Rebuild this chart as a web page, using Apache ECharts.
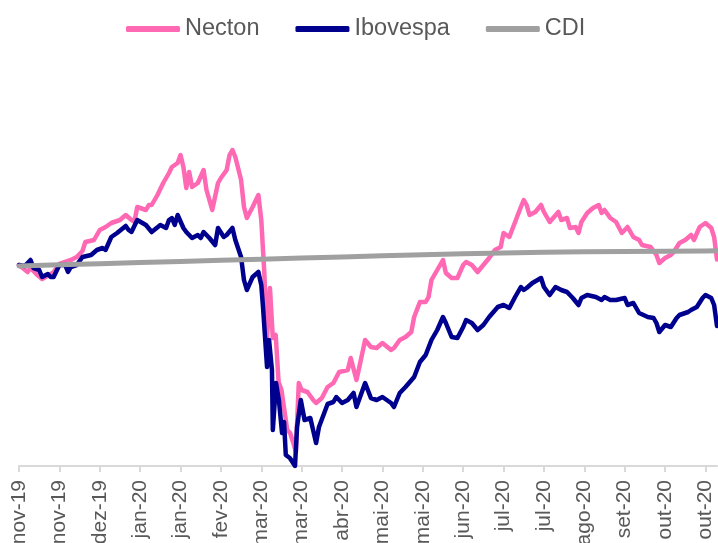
<!DOCTYPE html>
<html>
<head>
<meta charset="utf-8">
<script src="https://cdn.jsdelivr.net/npm/echarts@6/dist/echarts.min.js"></script>
<style>
  html, body { margin: 0; padding: 0; background: #ffffff; }
  #chart { width: 718px; height: 543px; }
</style>
</head>
<body>
<div id="chart"></div>
<script>
// Tick labels (one every 14 trading days)
const tickLabels = ['nov-19','nov-19','dez-19','jan-20','jan-20','fev-20','mar-20','mar-20','abr-20',
  'mai-20','mai-20','jun-20','jul-20','jul-20','ago-20','set-20','out-20','out-20'];
const tickStep = 14;
const lastDay = 242;

// Cumulative return (%) by trading day
const necton = [[0,0.2],[3,-1.2],[4,-0.4],[6,-1.6],[8,-2.6],[11,-1.6],[12,-1.2],[14,0.4],[18,1.2],[20,1.8],
  [22,3.0],[23,4.8],[26,5.2],[28,7.2],[30,7.8],[32,8.6],[35,9.2],[37,10.2],[39,9.2],[40,8.8],[41,11.8],
  [44,11.2],[45,12.2],[46,12.2],[48,14.2],[50,16.6],[52,18.6],[53,19.8],[55,20.6],[56,22.2],[57,19.8],
  [58,15.6],[59,18.8],[60,15.8],[62,16.6],[64,19.2],[65,15.2],[67,11.2],[69,16.6],[70,17.6],[72,19.2],
  [73,22.2],[74,23.2],[75,21.8],[77,17.2],[78,11.8],[79,9.6],[81,11.8],[83,14.2],[84,9.2],[85,-0.8],
  [86,-14.2],[87,-4.4],[88,-14.4],[89,-13.8],[90,-23.2],[91,-24.8],[93,-32.8],[94,-33.4],[95,-35.2],
  [96,-37.2],[97,-23.4],[98,-24.8],[100,-25.2],[102,-26.8],[103,-27.4],[105,-26.4],[107,-24.2],
  [109,-23.4],[111,-21.2],[114,-20.8],[115,-18.4],[117,-22.8],[118,-20.2],[120,-14.8],[122,-16.2],
  [124,-16.4],[126,-15.4],[129,-16.8],[130,-16.4],[132,-14.8],[134,-14.2],[136,-13.2],[137,-10.2],
  [139,-7.2],[141,-7.2],[142,-6.2],[143,-2.8],[145,-0.8],[147,1.2],[148,-1.4],[150,-2.4],[152,-2.4],
  [154,0.2],[155,0.8],[157,0.2],[159,-1.2],[161,0.2],[163,1.6],[165,3.2],[167,3.8],[168,6.6],[170,5.8],
  [172,8.8],[174,11.8],[175,13.2],[176,12.2],[177,10.2],[179,10.8],[181,12.2],[182,10.8],[184,8.8],
  [187,10.8],[188,9.2],[190,9.6],[191,7.6],[193,7.8],[194,6.6],[195,8.8],[197,10.6],[199,11.6],
  [201,12.2],[202,10.6],[203,11.2],[205,9.6],[207,8.8],[209,6.6],[211,7.8],[213,5.8],[215,5.2],
  [216,4.2],[219,3.8],[221,2.2],[222,0.6],[224,1.6],[226,2.2],[227,2.8],[229,4.6],[231,5.2],[233,6.2],
  [234,5.2],[236,7.8],[238,8.6],[240,7.6],[241,5.8],[242,1.3]];

const ibovespa = [[0,0.2],[2,0.0],[4,1.2],[5,-0.4],[7,-0.8],[8,-2.2],[10,-1.6],[11,-2.2],[12,-2.2],
  [14,0.2],[16,0.2],[17,-1.2],[18,-0.2],[20,0.2],[22,1.8],[25,2.2],[27,3.2],[29,3.6],[30,3.2],[32,5.8],
  [34,6.6],[37,8.0],[38,7.2],[39,6.8],[41,9.2],[44,8.2],[46,6.8],[49,8.2],[51,7.6],[52,9.2],[53,9.6],
  [54,8.2],[55,10.2],[57,7.6],[58,6.8],[60,5.6],[62,6.2],[63,5.6],[64,6.8],[66,5.6],[68,4.2],[69,7.6],
  [71,5.8],[72,6.2],[74,7.6],[75,5.2],[77,1.8],[78,-2.8],[79,-4.8],[81,-2.2],[83,-1.2],[84,-3.8],
  [84.6,-8.2],[86,-20.2],[86.7,-14.8],[87.7,-20.8],[88,-32.8],[89.1,-23.4],[90.1,-26.8],[91.2,-33.4],
  [91.9,-31.2],[92.5,-37.8],[93.9,-38.4],[95.7,-40.0],[96.4,-32.2],[97.7,-26.8],[99,-30.8],[101,-30.4],
  [103,-35.4],[104,-32.2],[107,-27.6],[109,-27.2],[110,-26.2],[112,-27.4],[114,-26.8],[116,-25.4],
  [117,-28.2],[120,-23.4],[122,-26.4],[124,-26.8],[126,-26.2],[129,-27.4],[130,-28.2],[132,-25.4],
  [134,-24.2],[137,-22.2],[139,-19.2],[141,-17.8],[143,-14.8],[145,-12.8],[147,-10.2],[148,-11.4],
  [150,-14.2],[152,-14.4],[154,-12.2],[155,-10.8],[157,-11.4],[159,-12.8],[161,-11.8],[163,-10.2],
  [166,-8.2],[168,-7.8],[170,-8.4],[172,-6.2],[174,-4.2],[175,-4.8],[176,-4.4],[178,-3.4],[181,-2.4],
  [182,-4.2],[184,-5.8],[186,-4.2],[188,-4.8],[190,-5.2],[192,-6.4],[194,-7.8],[195,-6.4],[197,-5.8],
  [200,-6.2],[202,-6.8],[203,-6.2],[205,-6.8],[207,-6.8],[210,-6.4],[211,-7.8],[213,-7.4],[215,-9.4],
  [218,-10.2],[220,-10.4],[221,-11.4],[222,-13.2],[224,-11.8],[226,-12.2],[228,-10.4],[229,-9.8],
  [232,-9.2],[233,-8.8],[235,-8.2],[237,-6.4],[238,-5.8],[240,-6.4],[241,-7.8],[242,-12.0]];

const cdi = [[0,0],[14,0.23],[28,0.46],[42,0.68],[56,0.91],[70,1.14],[84,1.37],[98,1.60],[112,1.82],
  [126,2.05],[140,2.25],[154,2.45],[168,2.62],[182,2.75],[196,2.85],[210,2.92],[224,2.97],[238,3.02],[242,3.03]];

const seriesNames = ['Necton', 'Ibovespa', 'CDI'];
const colors = ['#FF69B4', '#00008E', '#A0A0A0'];

const tickValues = tickLabels.map((_, i) => i * tickStep);

const chart = echarts.init(document.getElementById('chart'), null, { renderer: 'canvas' });
const lineCommon = { type: 'line', showSymbol: false, symbol: 'none', animation: false };

chart.setOption({
  backgroundColor: '#ffffff',
  animation: false,
  color: colors,
  legend: {
    left: 121,
    top: 12,
    itemWidth: 54,
    itemHeight: 6,
    itemGap: 36,
    icon: 'roundRect',
    textStyle: { fontFamily: 'Liberation Sans, Arial, sans-serif', fontSize: 23.5, color: '#595959' },
    data: seriesNames
  },
  grid: { left: 19, right: 1, top: 66, bottom: 77, containLabel: false, outerBoundsMode: 'none' },
  xAxis: {
    type: 'value',
    min: 0,
    max: lastDay,
    interval: tickStep,
    splitLine: { show: false },
    axisLine: { show: true, onZero: false, lineStyle: { color: '#D9D9D9', width: 2 } },
    axisTick: { show: true, length: 6, lineStyle: { color: '#D9D9D9', width: 2 }, customValues: tickValues },
    axisLabel: {
      customValues: tickValues,
      rotate: 90,
      margin: 14,
      fontFamily: 'Liberation Sans, Arial, sans-serif',
      fontSize: 21,
      color: '#595959',
      formatter: v => tickLabels[Math.round(v / tickStep)] || ''
    }
  },
  yAxis: {
    type: 'value',
    min: -40,
    max: 40,
    show: false,
    splitLine: { show: false }
  },
  series: [
    Object.assign({}, lineCommon, { name: seriesNames[0], data: necton,
      lineStyle: { color: colors[0], width: 4.5, cap: 'round', join: 'round' } }),
    Object.assign({}, lineCommon, { name: seriesNames[1], data: ibovespa,
      lineStyle: { color: colors[1], width: 4.5, cap: 'round', join: 'round' } }),
    Object.assign({}, lineCommon, { name: seriesNames[2], data: cdi,
      lineStyle: { color: colors[2], width: 5, cap: 'round', join: 'round' } })
  ]
});
</script>
</body>
</html>
